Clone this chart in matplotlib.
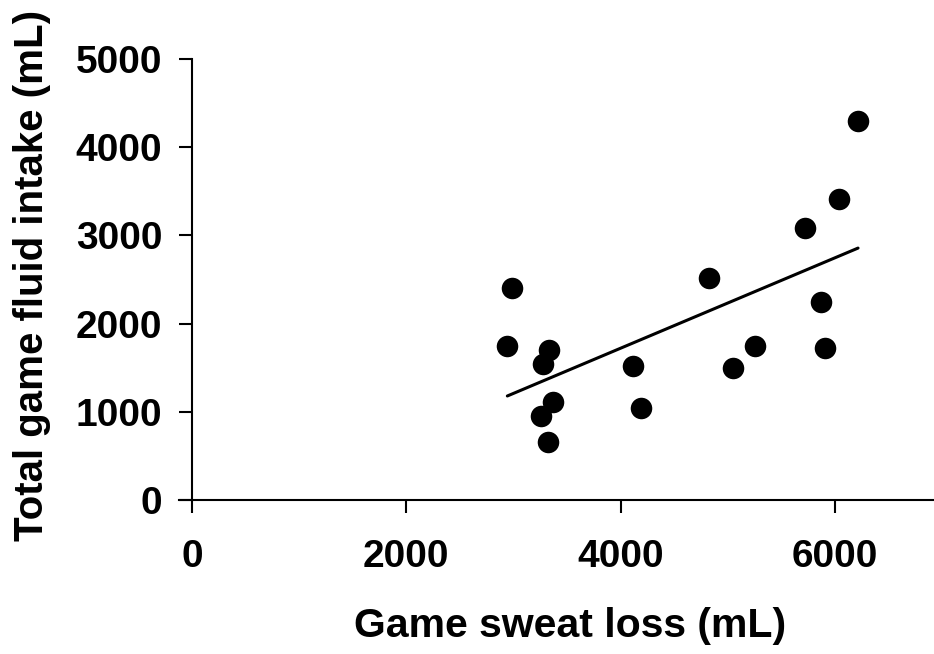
import numpy as np
import matplotlib.pyplot as plt

plt.rcParams['font.family'] = ['Liberation Sans', 'DejaVu Sans']

sweat_loss = [2984, 2943, 3335, 3279, 3372, 3260, 3319, 4119, 4194,
              4825, 5052, 5254, 5721, 5870, 5908, 6038, 6216]
fluid_intake = [2400, 1746, 1701, 1542, 1111, 952, 661, 1519, 1043,
                2513, 1497, 1746, 3084, 2241, 1723, 3416, 4297]

x_ticks = [0, 2000, 4000, 6000]
y_ticks = [0, 1000, 2000, 3000, 4000, 5000]

x = np.array(sweat_loss)
y = np.array(fluid_intake)
slope, intercept = np.polyfit(x, y, 1)
fit_x = np.array([x.min(), x.max()])
fit_y = slope * fit_x + intercept

fig = plt.figure(figsize=(9.34, 6.54), dpi=100)
ax = fig.add_axes([0.1917, 0.2355, 0.8083, 0.6743])

ax.plot(fit_x, fit_y, color='black', linewidth=2.2, solid_capstyle='round')
ax.plot(x, y, 'o', color='black', markersize=15.5, markeredgewidth=0)

ax.set_xlim(-121, 6925)
ax.set_ylim(0, 5000)
ax.spines['left'].set_position(('data', 0))
ax.spines['top'].set_visible(False)
ax.spines['right'].set_visible(False)
for s in ['left', 'bottom']:
    ax.spines[s].set_linewidth(1.5)

ax.set_xticks(x_ticks)
ax.set_yticks(y_ticks)
ax.tick_params(axis='both', direction='out', length=9.4, width=1.5, labelsize=28)
ax.tick_params(axis='x', pad=19)
ax.tick_params(axis='y', pad=12)
for lbl in ax.get_xticklabels() + ax.get_yticklabels():
    lbl.set_fontweight('bold')

ax.set_xlabel('Game sweat loss (mL)', fontsize=29.5, fontweight='bold')
ax.xaxis.set_label_coords(0.518, -0.243)
ax.set_ylabel('Total game fluid intake (mL)', fontsize=29, fontweight='bold')
ax.yaxis.set_label_coords(-0.1695, 0.51)

fig.savefig('out.png', dpi=100)
